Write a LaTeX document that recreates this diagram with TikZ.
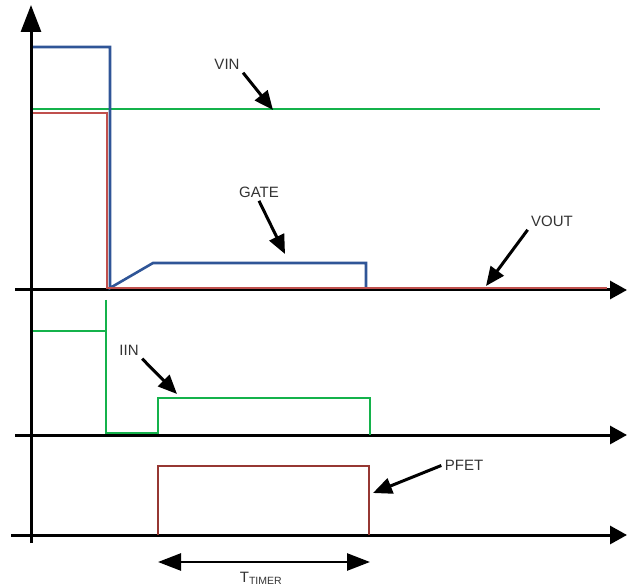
\documentclass[tikz,border=0pt]{standalone}
\usepackage{fontspec}
\setmainfont{Liberation Sans}
\usetikzlibrary{arrows.meta}
\definecolor{gateblue}{RGB}{47,85,151}
\definecolor{vingreen}{RGB}{20,178,75}
\definecolor{voutred}{RGB}{192,80,77}
\definecolor{pfetred}{RGB}{150,55,50}
\begin{document}
\begin{tikzpicture}
  [x=1pt,y=-1pt,every node/.style={text=black!80,font=\fontsize{15}{17}\selectfont}]
  \useasboundingbox (0,0) rectangle (627,588);
  % axes
  \coordinate (ybot) at (31,543);
  \coordinate (ytop) at (31,5);
  \coordinate (a1) at (15,290);  \coordinate (b1) at (627,290);
  \coordinate (a2) at (15,435);  \coordinate (b2) at (627,435);
  \coordinate (a3) at (11,535);  \coordinate (b3) at (627,535);
  \draw[line width=3pt,-{Triangle[length=27pt,width=20pt]}] (ybot) -- (ytop);
  \begin{scope}[line width=3pt, -{Triangle[length=17pt,width=18pt]}]
    \foreach \from/\to in {a1/b1,a2/b2,a3/b3}
    \draw (\from) -- (\to);
  \end{scope}
  % signals
  \draw[vingreen,line width=2.6pt] (33,109) -- (600,109);
  \draw[gateblue,line width=2.6pt] (33,47) -- (110,47) -- (110,288) -- (153,263) -- (366,263) -- (366,289);
  \draw[voutred,line width=2.6pt] (33,113) -- (107,113) -- (107,288) -- (607,288);
  \draw[vingreen,line width=2.6pt] (33,331) -- (106,331);
  \draw[vingreen,line width=2.6pt] (106,300) -- (106,433) -- (158,433) -- (158,398) -- (370,398) -- (370,435);
  \draw[pfetred,line width=2.6pt] (158,535) -- (158,466) -- (369,466) -- (369,535);
  % labels
  \node (vin) at (227,64) {VIN};
  \node (gate) at (259,192) {GATE};
  \node (vout) at (552,221) {VOUT};
  \node (iin) at (129,350) {IIN};
  \node (pfet) at (464,465.5) {PFET};
  \node[anchor=base] (ttimer) at (261,582) {T\textsubscript{TIMER}};
  \coordinate (vintip) at (273,110);
  \coordinate (gatetip) at (285,254);
  \coordinate (vouttip) at (486,286);
  \coordinate (iintip) at (177,394);
  \coordinate (pfettip) at (373,493);
  \begin{scope}[line width=3pt, -{Triangle[length=19pt,width=16pt]}]
    \foreach \from/\to in {vin.south east/vintip,gate.south/gatetip,vout.south west/vouttip,iin.south east/iintip,pfet.west/pfettip}
    \draw (\from) -- (\to);
  \end{scope}
  % timer
  \coordinate (tstart) at (158,562);
  \coordinate (tend) at (370,562);
  \draw[line width=2.6pt,{Triangle[length=23pt,width=17pt]}-{Triangle[length=23pt,width=17pt]}] (tstart) -- (tend);
\end{tikzpicture}
\end{document}
